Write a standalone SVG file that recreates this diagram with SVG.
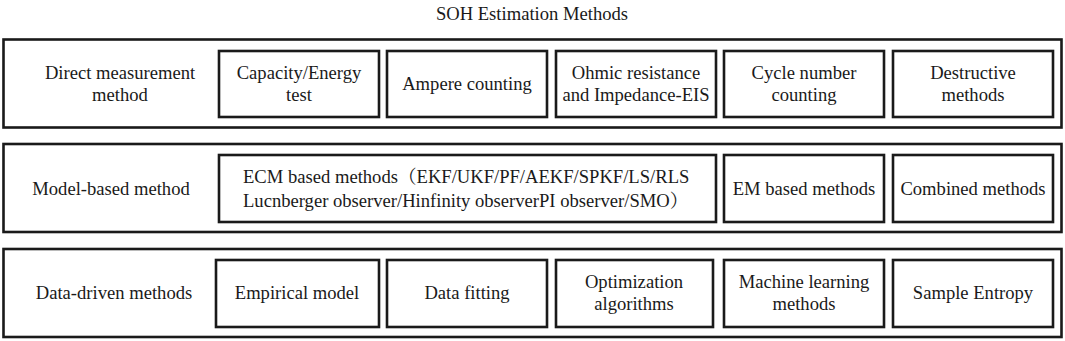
<svg xmlns="http://www.w3.org/2000/svg" width="1065" height="341" viewBox="0 0 1065 341" font-family="'Liberation Serif', 'Times New Roman', 'Noto Serif CJK SC', 'Noto Sans CJK SC', serif" font-size="18.6">
<style>
.box{fill:#fff;stroke:#1a1a1a;stroke-width:2.6}
.t{fill:#1a1a1a;text-anchor:middle}
.l{text-anchor:start}
</style>
<rect width="1065" height="341" fill="#fff"/>
<text class="t" x="532" y="20">SOH Estimation Methods</text>
<g id="row1">
<rect class="box" x="3.5" y="39.5" width="1058" height="88"/>
<text class="t" x="120" y="79">Direct measurement</text>
<text class="t" x="120" y="101">method</text>
</g>
<g id="n-capacity"><rect class="box" x="219" y="51" width="160" height="66"/><text class="t" x="299" y="79">Capacity/Energy</text><text class="t" x="299" y="101">test</text></g>
<g id="n-ampere"><rect class="box" x="387" y="51" width="160" height="66"/><text class="t" x="467" y="90">Ampere counting</text></g>
<g id="n-ohmic"><rect class="box" x="556" y="51" width="160" height="66"/><text class="t" x="636" y="79">Ohmic resistance</text><text class="t" x="636" y="101">and Impedance-EIS</text></g>
<g id="n-cycle"><rect class="box" x="724" y="51" width="160" height="66"/><text class="t" x="804" y="79">Cycle number</text><text class="t" x="804" y="101">counting</text></g>
<g id="n-destructive"><rect class="box" x="893" y="51" width="160" height="66"/><text class="t" x="973" y="79">Destructive</text><text class="t" x="973" y="101">methods</text></g>

<g id="row2">
<rect class="box" x="3.5" y="144" width="1058" height="88"/>
<text class="t" x="111" y="195">Model-based method</text>
</g>
<g id="n-ecm"><rect class="box" x="219" y="155" width="497" height="67"/><text class="t l" x="243" y="183">ECM based methods（EKF/UKF/PF/AEKF/SPKF/LS/RLS</text><text class="t l" x="243" y="207">Lucnberger observer/Hinfinity observerPI observer/SMO）</text></g>
<g id="n-em"><rect class="box" x="724" y="155" width="160" height="67"/><text class="t" x="804" y="195">EM based methods</text></g>
<g id="n-combined"><rect class="box" x="893" y="155" width="160" height="67"/><text class="t" x="973" y="195">Combined methods</text></g>

<g id="row3">
<rect class="box" x="3.5" y="249" width="1058" height="88"/>
<text class="t" x="114" y="299">Data-driven methods</text>
</g>
<g id="n-empirical"><rect class="box" x="216" y="260" width="163" height="67"/><text class="t" x="297" y="299">Empirical model</text></g>
<g id="n-fitting"><rect class="box" x="387" y="260" width="160" height="67"/><text class="t" x="467" y="299">Data fitting</text></g>
<g id="n-optim"><rect class="box" x="556" y="260" width="157" height="67"/><text class="t" x="634" y="288">Optimization</text><text class="t" x="634" y="310">algorithms</text></g>
<g id="n-ml"><rect class="box" x="724" y="260" width="160" height="67"/><text class="t" x="804" y="288">Machine learning</text><text class="t" x="804" y="310">methods</text></g>
<g id="n-entropy"><rect class="box" x="893" y="260" width="160" height="67"/><text class="t" x="973" y="299">Sample Entropy</text></g>
<g id="connectors"></g>
</svg>
